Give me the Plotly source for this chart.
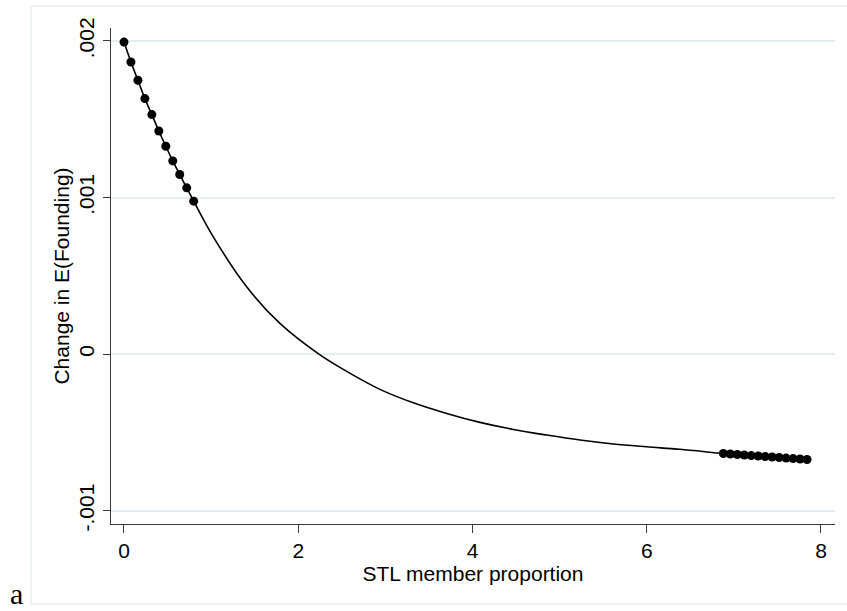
import plotly.graph_objects as go

# ---- data ----
left_x = [0.0, 0.08, 0.16, 0.24, 0.32, 0.40, 0.48, 0.56, 0.64, 0.72, 0.80]
left_y = [0.001993, 0.001866, 0.001749, 0.001632, 0.001530, 0.001425,
          0.001328, 0.001234, 0.001147, 0.001062, 0.000977]

mid_x = [1.025, 1.408, 1.790, 2.250, 2.556, 2.938, 3.321, 3.704, 4.086,
         4.468, 4.852, 5.234, 5.616, 5.999, 6.382]
mid_y = [0.000749, 0.000430, 0.000196, -0.000005, -0.000110, -0.000225,
         -0.000311, -0.000379, -0.000436, -0.000481, -0.000517, -0.000549,
         -0.000574, -0.000592, -0.000608]

right_x = [6.88, 6.96, 7.04, 7.12, 7.20, 7.28, 7.36, 7.44, 7.52, 7.60,
           7.68, 7.76, 7.84]
right_y = [-0.000635, -0.000638, -0.000641, -0.000644, -0.000648, -0.000651,
           -0.000654, -0.000657, -0.000660, -0.000664, -0.000667, -0.000670,
           -0.000673]

y_ticks = [-0.001, 0.0, 0.001, 0.002]
y_ticktext = ["-.001", "0", ".001", ".002"]
x_ticks = [0, 2, 4, 6, 8]
x_ticktext = ["0", "2", "4", "6", "8"]

x_title = "STL member proportion"
y_title = "Change in E(Founding)"
panel_label = "a"

# ---- layout geometry ----
W, H = 847, 611
L, R, T, B = 111, 835, 28, 524   # plot-area pixel edges
FS = 21

line_x = left_x + mid_x + right_x
line_y = left_y + mid_y + right_y

fig = go.Figure()
fig.add_trace(go.Scatter(x=line_x, y=line_y, mode="lines",
                         line=dict(color="black", width=1.6, shape="spline",
                                   smoothing=1.0),
                         showlegend=False, hoverinfo="skip"))
fig.add_trace(go.Scatter(x=left_x, y=left_y, mode="markers",
                         marker=dict(color="black", size=9),
                         showlegend=False))
fig.add_trace(go.Scatter(x=right_x, y=right_y, mode="markers",
                         marker=dict(color="black", size=9),
                         showlegend=False))

font_main = "Arial, Liberation Sans, sans-serif"
grid_col = "#E6EDF1"
axis_col = "#3a3a3a"

fig.update_layout(
    width=W, height=H,
    margin=dict(l=L, r=W - R, t=T, b=H - B, pad=0),
    paper_bgcolor="white", plot_bgcolor="white",
    font=dict(family=font_main, size=FS, color="black"),
    xaxis=dict(range=[-0.149, 8.161], tickvals=x_ticks, ticktext=x_ticktext,
               showgrid=False, zeroline=False, showline=True,
               linecolor=axis_col, linewidth=1.3,
               ticks="outside", ticklen=8, tickwidth=1.3, tickcolor=axis_col,
               tickfont=dict(size=FS), ticklabelstandoff=0,
               title=dict(text=x_title, font=dict(size=FS), standoff=2)),
    yaxis=dict(range=[-0.001085, 0.002083], tickvals=y_ticks, ticktext=y_ticktext,
               tickangle=-90,
               showgrid=True, gridcolor=grid_col, gridwidth=1.5,
               zeroline=False, showline=True,
               linecolor=axis_col, linewidth=1.3,
               ticks="outside", ticklen=7, tickwidth=1.3, tickcolor=axis_col,
               tickfont=dict(size=FS), ticklabelstandoff=0,
               title=dict(text=y_title, font=dict(size=FS), standoff=0)),
)

# outer light frame (Stata graph region)
def px_to_paper_x(px):
    return (px - L) / (R - L)

def px_to_paper_y(py):
    return (B - py) / (B - T)

fig.add_shape(type="rect", xref="paper", yref="paper",
              x0=px_to_paper_x(31), x1=px_to_paper_x(849),
              y0=px_to_paper_y(604), y1=px_to_paper_y(6),
              line=dict(color="#E8EEF1", width=1.5), layer="below")

fig.add_annotation(text=panel_label, xref="paper", yref="paper",
                   x=px_to_paper_x(16), y=px_to_paper_y(611),
                   xanchor="center", yanchor="bottom", showarrow=False,
                   borderpad=0,
                   font=dict(family="Times New Roman, Liberation Serif, serif",
                             size=30, color="black"))

fig.write_html("out.html")
